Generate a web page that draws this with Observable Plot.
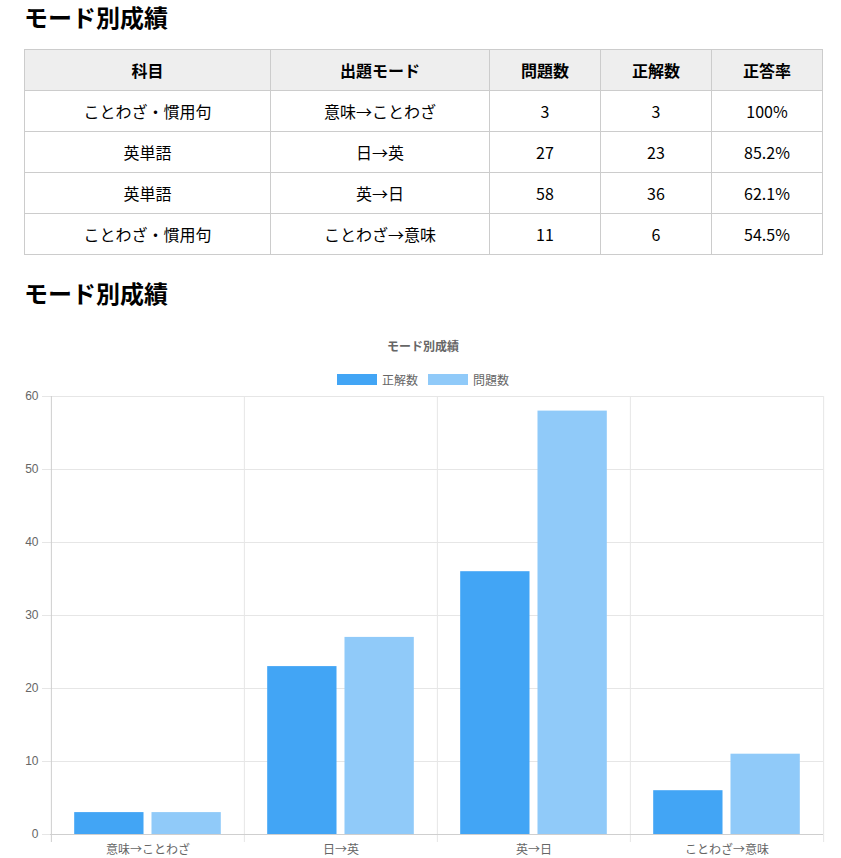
<!DOCTYPE html>
<html lang="ja">
<head>
<meta charset="utf-8">
<script src="https://cdn.jsdelivr.net/npm/d3@7"></script>
<script src="https://cdn.jsdelivr.net/npm/@observablehq/plot@0.6"></script>
<style>
  html, body { margin: 0; padding: 0; background: #fff; }
  body { font-family: "Noto Sans CJK JP", "Noto Sans", sans-serif; color: #000; width: 841px; }
  h2 { margin: 0; padding-left: 24px; font-size: 24px; font-weight: bold; line-height: 30px; height: 30px; }
  #h1 { padding-top: 2px; }
  table { border-collapse: collapse; margin-left: 24px; margin-top: 17px; width: 798px; table-layout: fixed; }
  th, td { border: 1px solid #ccc; height: 40px; padding: 0; text-align: center; font-size: 16px; line-height: 20px; }
  th { background: #eee; font-weight: bold; }
  #h2 { margin-top: 23px; }
  #ctitle { margin-left: 24px; width: 798px; text-align: center; font-family: "Liberation Sans", "Noto Sans CJK JP", sans-serif; font-size: 12px; font-weight: bold; color: #666; margin-top: 32px; line-height: 14px; height: 14px; }
  #legend { margin-left: 24px; width: 798px; display: flex; justify-content: center; align-items: center; margin-top: 17px; height: 16px; font-family: "Liberation Sans", "Noto Sans CJK JP", sans-serif; font-size: 12px; color: #666; }
  .sw { width: 40px; height: 11px; margin-right: 5px; box-sizing: border-box; }
  .li { display: flex; align-items: center; margin: 0 5px; }
  #chart { margin-left: 24px; margin-top: 1px; }
</style>
</head>
<body>
<h2 id="h1">モード別成績</h2>
<table id="tbl"></table>
<h2 id="h2">モード別成績</h2>
<div id="ctitle">モード別成績</div>
<div id="legend"></div>
<div id="chart"></div>
<script>
// ---- data ----
const headers = ["科目", "出題モード", "問題数", "正解数", "正答率"];
const subjects = ["ことわざ・慣用句", "英単語", "英単語", "ことわざ・慣用句"];
const modes = ["意味→ことわざ", "日→英", "英→日", "ことわざ→意味"];
const questions = [3, 27, 58, 11];
const correct = [3, 23, 36, 6];
const rates = ["100%", "85.2%", "62.1%", "54.5%"];
const seriesNames = ["正解数", "問題数"];
const seriesColors = ["#42A5F5", "#90CAF9"];
const yTicks = [0, 10, 20, 30, 40, 50, 60];
const chartTitle = "モード別成績";

// ---- table ----
const colWidths = [246, 219, 111, 111, 111];
const tbl = document.getElementById("tbl");
const cg = document.createElement("colgroup");
colWidths.forEach(w => { const c = document.createElement("col"); c.style.width = w + "px"; cg.appendChild(c); });
tbl.appendChild(cg);
const trh = document.createElement("tr");
headers.forEach(h => { const th = document.createElement("th"); th.textContent = h; trh.appendChild(th); });
tbl.appendChild(trh);
modes.forEach((m, i) => {
  const tr = document.createElement("tr");
  [subjects[i], m, questions[i], correct[i], rates[i]].forEach(v => {
    const td = document.createElement("td"); td.textContent = v; tr.appendChild(td);
  });
  tbl.appendChild(tr);
});

// ---- legend ----
document.getElementById("ctitle").textContent = chartTitle;
const lg = document.getElementById("legend");
seriesNames.forEach((s, i) => {
  const it = document.createElement("div"); it.className = "li";
  const sw = document.createElement("div"); sw.className = "sw"; sw.style.background = seriesColors[i];
  const tx = document.createElement("span"); tx.textContent = s;
  it.appendChild(sw); it.appendChild(tx); lg.appendChild(it);
});

// ---- chart ----
const W = 799, H = 470, ML = 26, MR = 0, MT = 8, MB = 24;
const bw = (W - ML - MR) / modes.length;
const groupW = bw * 0.8, slot = groupW / 2, barW = slot * 0.9;
const outer = (bw - groupW) / 2 + (slot - barW) / 2;
const gridColor = "#e6e6e6", axisColor = "#cfcfcf";

const dataCorrect = modes.map((m, i) => ({mode: m, value: correct[i]}));
const dataQuestions = modes.map((m, i) => ({mode: m, value: questions[i]}));

const chart = Plot.plot({
  width: W, height: H,
  marginLeft: ML, marginRight: MR, marginTop: MT, marginBottom: MB,
  style: {fontFamily: "'Liberation Sans', 'Noto Sans CJK JP', sans-serif", fontSize: "12px", color: "#666", background: "#fff", overflow: "visible"},
  x: {domain: modes, padding: 0, label: null},
  y: {domain: [0, 60], label: null},
  marks: [
    Plot.gridY(yTicks, {stroke: gridColor, strokeOpacity: 1}),
    Plot.ruleX(modes.slice(1), {x: d => d, dx: -bw / 2, stroke: gridColor, insetBottom: -8}),
    Plot.ruleX([modes[modes.length - 1]], {x: d => d, dx: bw / 2, stroke: gridColor, insetBottom: -8}),
    Plot.barY(dataCorrect, {x: "mode", y: "value", fill: seriesColors[0], insetLeft: outer, insetRight: bw - outer - barW}),
    Plot.barY(dataQuestions, {x: "mode", y: "value", fill: seriesColors[1], insetLeft: bw / 2 + (slot - barW) / 2, insetRight: outer}),
    Plot.ruleX([modes[0]], {x: d => d, dx: -bw / 2, stroke: axisColor, insetBottom: -8}),
    Plot.ruleY([0], {stroke: axisColor}),
    Plot.axisY({ticks: yTicks, tickSize: 8, tickPadding: 4, stroke: gridColor, strokeOpacity: 1, fill: "#666", label: null}),
    Plot.axisX({tickSize: 0, tickPadding: 11, fill: "#666", label: null, fontFamily: "'Noto Sans CJK JP', sans-serif"})
  ]
});
document.getElementById("chart").appendChild(chart);
</script>
</body>
</html>
